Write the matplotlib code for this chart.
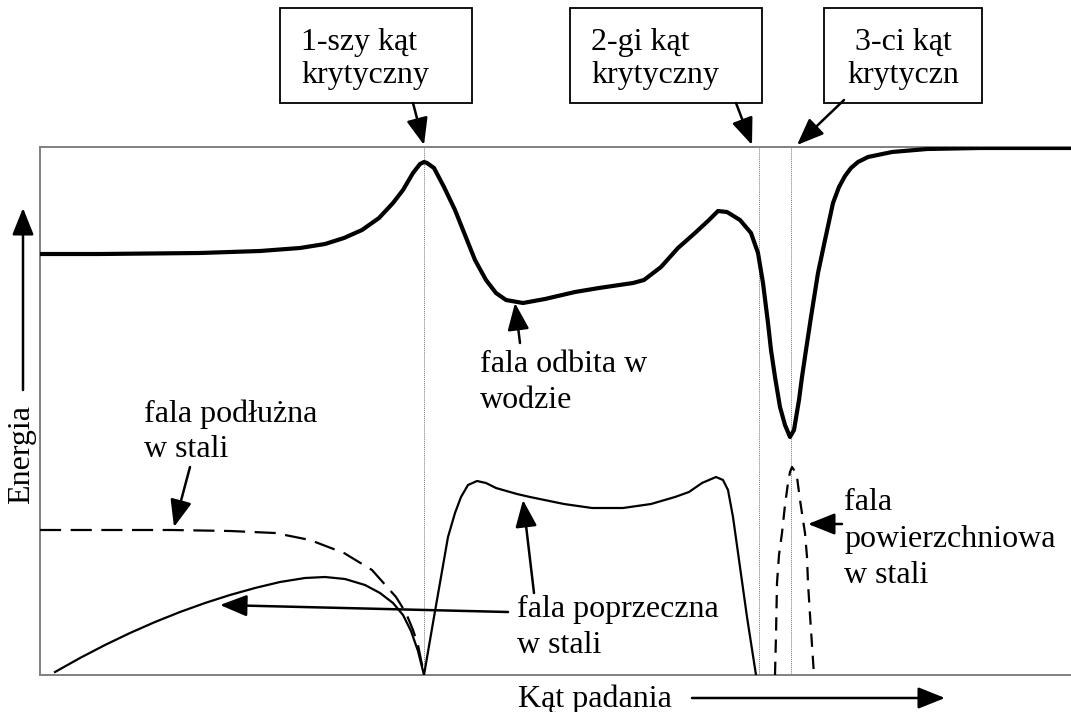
import matplotlib
matplotlib.use('Agg')
import matplotlib.pyplot as plt
from matplotlib.patches import Rectangle

# kat padania (x) and energia (y)
odbita_x = [40, 100, 200, 260, 300, 325, 344, 362, 379, 393, 403, 413, 420, 424, 427, 434,
            444, 455, 465, 475, 486, 496, 506, 523, 545, 575, 599, 633, 644, 661, 678, 695,
            709, 718, 727, 740, 751, 758, 763, 768, 771, 775, 780, 785, 790, 794, 799, 802,
            806, 811, 818, 825, 833, 839, 845, 851, 858, 868, 892, 927, 980, 1071]
odbita_y = [421, 421, 422, 424, 427, 431, 437, 445, 457, 472, 485, 502, 511, 513, 512, 507,
            488, 465, 440, 415, 395, 382, 375, 372, 376, 383, 387, 392, 395, 408, 427, 442,
            455, 464, 463, 455, 442, 422, 392, 352, 325, 298, 268, 250, 238, 245, 275, 298,
            325, 358, 402, 435, 472, 488, 499, 507, 513, 518, 523, 526, 527, 527]

podluzna_x = [40, 100, 172, 230, 275, 310, 344, 372, 396, 406, 413, 418, 421, 423, 424]
podluzna_y = [145, 145, 145, 144, 142, 135, 122, 105, 78, 62, 45, 30, 15, 6, 0]

poprzeczna_x = [55, 80, 105, 130, 155, 180, 205, 230, 255, 280, 305, 325, 345, 365, 380,
                393, 403, 411, 418, 424,
                434, 448, 455, 461, 468, 477, 486, 496, 517, 530, 564, 592, 623, 651, 675,
                689, 702, 716, 723, 728, 733, 740, 747, 756]
poprzeczna_y = [3, 17, 30, 42, 53, 63, 72, 80, 87, 93, 97, 98, 96, 90, 82,
                72, 60, 44, 24, 0,
                58, 138, 162, 178, 190, 194, 192, 187, 181, 178, 171, 167, 167, 171, 178,
                183, 192, 198, 195, 185, 158, 108, 58, 0]

powierzchniowa_x = [775, 776, 777, 779, 782, 785, 788, 790, 792, 794, 797, 800, 803, 805,
                    807, 808, 810, 812, 814]
powierzchniowa_y = [0, 40, 92, 120, 142, 170, 192, 203, 208, 205, 198, 175, 155, 142,
                    118, 92, 60, 30, 0]

katy_krytyczne = [424, 759, 791]
etykiety_katow = [('1-szy kąt', 'krytyczny'), ('2-gi kąt', 'krytyczny'), ('3-ci kąt', 'krytyczn')]


def main():
    plt.rcParams['font.family'] = ['Liberation Serif', 'DejaVu Serif']
    fig = plt.figure(figsize=(10.71, 7.12), dpi=100)
    ax = fig.add_axes([40 / 1071, 37 / 712, 1031 / 1071, 528 / 712])
    ax.set_xlim(40, 1071)
    ax.set_ylim(0, 528)
    ax.set_xticks([])
    ax.set_yticks([])
    for side in ['left', 'top', 'bottom']:
        ax.spines[side].set_color('#808080')
        ax.spines[side].set_linewidth(1.4)
    ax.spines['right'].set_visible(False)

    # critical angles
    for k in katy_krytyczne:
        ax.axvline(k, color='#777777', lw=0.7, ls=(0, (1, 1)), zorder=1)

    # curves
    ax.plot(odbita_x, odbita_y, color='black', lw=3.0, solid_joinstyle='round', zorder=3)
    ax.plot(poprzeczna_x, poprzeczna_y, color='black', lw=1.6, solid_joinstyle='round', zorder=3)
    ax.plot(podluzna_x, podluzna_y, color='black', lw=1.6, dashes=(9.5, 4.3), zorder=3)
    ax.plot(powierzchniowa_x, powierzchniowa_y, color='black', lw=1.6, dashes=(6, 4), zorder=3)

    fs = 23
    arrow = dict(arrowstyle='-|>,head_length=0.55,head_width=0.22', color='black', lw=1.8,
                 mutation_scale=30, shrinkA=0, shrinkB=0)

    # boxes with critical angle labels (above the frame)
    boxes = [(280, 472), (570, 762), (824, 982)]
    for (x0, x1) in boxes:
        ax.add_patch(Rectangle((x0, 572), x1 - x0, 95, fill=False, ec='black', lw=1.3,
                               clip_on=False))
    ax.text(301, 625, etykiety_katow[0][0], fontsize=fs, va='baseline', clip_on=False)
    ax.text(301, 592, etykiety_katow[0][1], fontsize=fs, va='baseline', clip_on=False)
    ax.text(591, 625, etykiety_katow[1][0], fontsize=fs, va='baseline', clip_on=False)
    ax.text(591, 592, etykiety_katow[1][1], fontsize=fs, va='baseline', clip_on=False)
    ax.text(903, 625, etykiety_katow[2][0], fontsize=fs, va='baseline', ha='center', clip_on=False)
    ax.text(903, 592, etykiety_katow[2][1], fontsize=fs, va='baseline', ha='center', clip_on=False)

    ax.annotate('', xy=(424, 530), xytext=(413, 572), arrowprops=arrow, annotation_clip=False)
    ax.annotate('', xy=(752, 530), xytext=(736, 572), arrowprops=arrow, annotation_clip=False)
    ax.annotate('', xy=(797, 530), xytext=(844, 575), arrowprops=arrow, annotation_clip=False)

    # curve labels
    ax.text(480, 303, 'fala odbita w', fontsize=fs, va='baseline')
    ax.text(480, 267, 'wodzie', fontsize=fs, va='baseline')
    ax.annotate('', xy=(515, 372), xytext=(520, 332), arrowprops=arrow)

    ax.text(144, 253, 'fala podłużna', fontsize=fs, va='baseline')
    ax.text(144, 218, 'w stali', fontsize=fs, va='baseline')
    ax.annotate('', xy=(174, 148), xytext=(190, 208), arrowprops=arrow)

    ax.text(517, 58, 'fala poprzeczna', fontsize=fs, va='baseline')
    ax.text(517, 22, 'w stali', fontsize=fs, va='baseline')
    ax.annotate('', xy=(220, 70), xytext=(508, 63), arrowprops=arrow)
    ax.annotate('', xy=(523, 175), xytext=(534, 82), arrowprops=arrow)

    ax.text(844, 165, 'fala', fontsize=fs, va='baseline')
    ax.text(844, 128, 'powierzchniowa', fontsize=fs, va='baseline')
    ax.text(844, 92, 'w stali', fontsize=fs, va='baseline')
    ax.annotate('', xy=(808, 151), xytext=(842, 151), arrowprops=arrow)

    # axis titles with arrows
    ax.text(22, 220, 'Energia', fontsize=fs, rotation=90, ha='center', va='center',
            clip_on=False)
    ax.annotate('', xy=(23, 467), xytext=(23, 285), arrowprops=arrow, annotation_clip=False)
    ax.text(518, -32, 'Kąt padania', fontsize=fs, va='baseline', clip_on=False)
    ax.annotate('', xy=(945, -23), xytext=(692, -23), arrowprops=arrow, annotation_clip=False)

    fig.savefig('out.png', dpi=100)


if __name__ == "__main__":
    main()
